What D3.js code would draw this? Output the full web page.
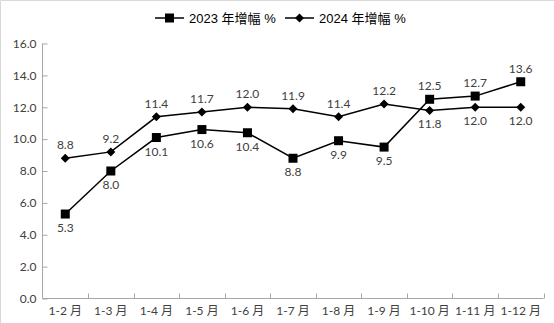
<!DOCTYPE html>
<html><head><meta charset="utf-8">
<script src="https://cdn.jsdelivr.net/npm/d3@7"></script>
<style>body{margin:0;background:#fff}svg{display:block}</style>
</head><body>
<script>
const categories = ["1-2 月","1-3 月","1-4 月","1-5 月","1-6 月","1-7 月","1-8 月","1-9 月","1-10 月","1-11 月","1-12 月"];
const values2023 = [5.3, 8.0, 10.1, 10.6, 10.4, 8.8, 9.9, 9.5, 12.5, 12.7, 13.6];
const values2024 = [8.8, 9.2, 11.4, 11.7, 12.0, 11.9, 11.4, 12.2, 11.8, 12.0, 12.0];
const labelPos2023 = ["b","b","b","b","b","b","b","b","t","t","t"];
const labelPos2024 = ["t","t","t","t","t","t","t","t","b","b","b"];
const yTicks = [0,2,4,6,8,10,12,14,16];
const seriesNames = ["2023 年增幅 %","2024 年增幅 %"];

const W=554,H=323;
const svg=d3.select("body").append("svg").attr("width",W).attr("height",H);
svg.append("path").attr("d",`M0.5,${H}V0.5H${W}`).attr("fill","none").attr("stroke","#d9d9d9");

const x=d3.scaleBand().domain(categories).range([42.5,543.5]);
const y=d3.scaleLinear().domain([0,16]).range([298.5,43.5]);
const lblFont="Lato, 'Noto Sans CJK SC', sans-serif";
const col="#404040";

// y axis
const ya=svg.append("g").attr("transform","translate(42.5,0)")
  .call(d3.axisRight(y).tickValues(yTicks).tickSize(5).tickFormat(d3.format(".1f")));
ya.select(".domain").attr("stroke","#a6a6a6").attr("d","M0,43.5V298.5");
ya.selectAll(".tick line").attr("stroke","#a6a6a6");
ya.selectAll(".tick text").attr("x",-6).attr("text-anchor","end")
  .attr("font-family",lblFont).attr("font-size",12).attr("fill",col);

// x axis
const xa=svg.append("g").attr("transform","translate(0,298.5)")
  .call(d3.axisBottom(x).tickSize(0));
xa.select(".domain").attr("stroke","#a6a6a6").attr("d","M42.5,0H543.5");
xa.selectAll(".tick text").attr("dy",0).attr("y",16)
  .attr("font-family",lblFont).attr("font-size",12).attr("fill",col);
// boundary ticks
const bounds=categories.map(c=>x(c)).concat([x.range()[1]]);
svg.append("g").selectAll("line").data(bounds.slice(1)).join("line")
  .attr("x1",d=>Math.round(d)+0.5).attr("x2",d=>Math.round(d)+0.5)
  .attr("y1",298.5).attr("y2",293.5).attr("stroke","#a6a6a6");

const cx=c=>x(c)+x.bandwidth()/2;
const line=d3.line().x((d,i)=>cx(categories[i])).y(d=>y(d));

function drawSeries(vals,pos,shape){
  svg.append("path").datum(vals).attr("d",line).attr("fill","none").attr("stroke","#000").attr("stroke-width",1.5);
  const g=svg.append("g");
  vals.forEach((v,i)=>{
    const px=cx(categories[i]), py=y(v);
    if(shape==="sq") g.append("rect").attr("x",px-4.5).attr("y",py-4.5).attr("width",9).attr("height",9).attr("fill","#000");
    else g.append("path").attr("d",`M${px},${py-4.5}L${px+4.5},${py}L${px},${py+4.5}L${px-4.5},${py}Z`).attr("fill","#000");
    g.append("text").attr("x",px).attr("y",pos[i]==="t"?py-9:py+18).attr("text-anchor","middle")
      .attr("font-family",lblFont).attr("font-size",12).attr("fill",col).text(d3.format(".1f")(v));
  });
}
drawSeries(values2023,labelPos2023,"sq");
drawSeries(values2024,labelPos2024,"di");

// legend
const lg=svg.append("g").attr("font-family","'Liberation Sans', Arial, 'Noto Sans CJK SC', sans-serif").attr("font-size",13).attr("fill","#000");
[[155,"sq"],[285,"di"]].forEach(([lx,s],i)=>{
  lg.append("line").attr("x1",lx).attr("x2",lx+29).attr("y1",18).attr("y2",18).attr("stroke","#000").attr("stroke-width",1.5);
  const mx=lx+14.5;
  if(s==="sq") lg.append("rect").attr("x",mx-4.5).attr("y",13.5).attr("width",9).attr("height",9);
  else lg.append("path").attr("d",`M${mx},13.5L${mx+4.5},18L${mx},22.5L${mx-4.5},18Z`);
  lg.append("text").attr("x",lx+34).attr("y",22.5).text(seriesNames[i]);
});
</script>
</body></html>
